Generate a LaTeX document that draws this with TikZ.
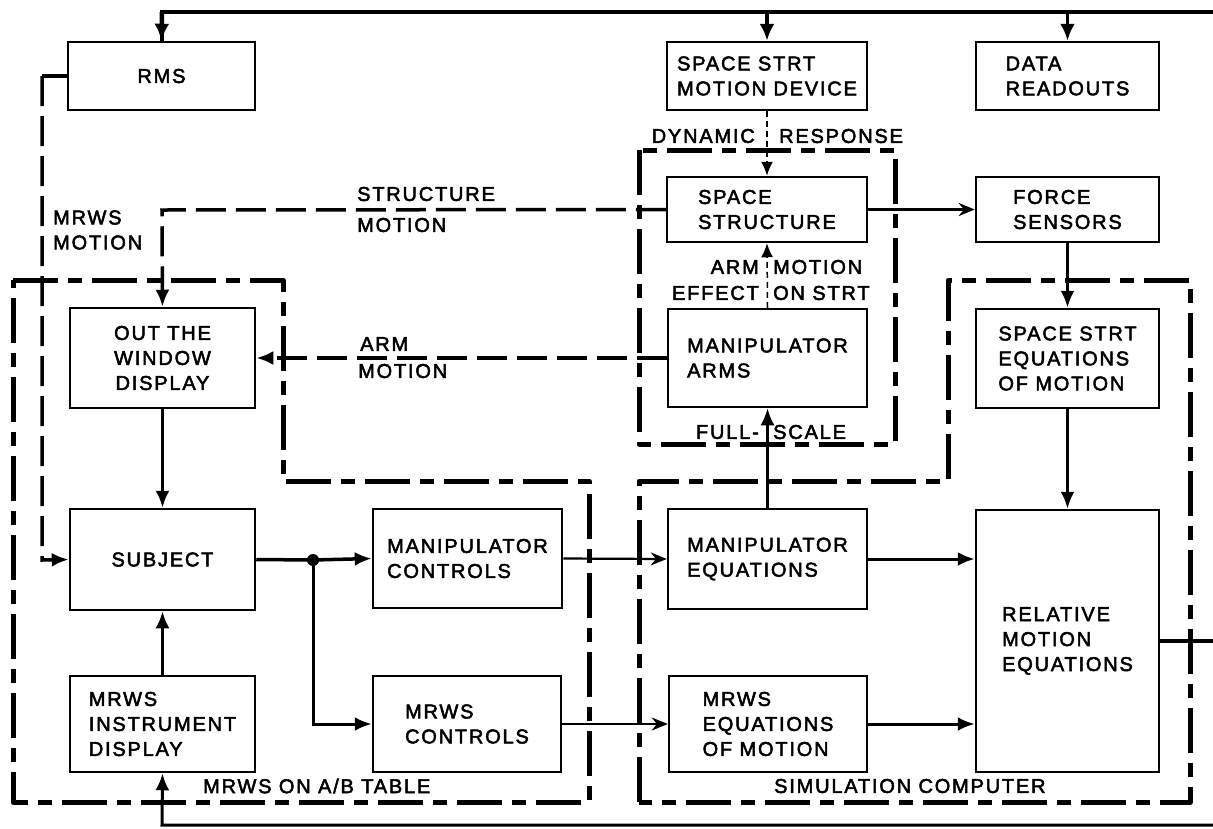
\documentclass[tikz,border=0pt]{standalone}
\usepackage{fontspec}
\newfontfamily\lblfont{Liberation Sans}[LetterSpace=9, FakeBold=2.5]
\usetikzlibrary{arrows.meta}
\tikzset{
  box/.style={draw, line width=2.5pt, inner sep=0pt, align=left, font=\lblfont\fontsize{20}{25}\selectfont},
  lbl/.style={inner sep=0pt, align=left, font=\lblfont\fontsize{20}{25}\selectfont},
  flow/.style={line width=3pt, -{Latex[length=17pt,width=14pt]}},
  thinflow/.style={line width=2.2pt, -{Stealth[length=16pt,width=13pt]}},
  bus/.style={line width=4.5pt},
  motion/.style={line width=3.5pt, dash pattern=on 30pt off 10pt, -{Latex[length=17pt,width=14pt]}},
  faint/.style={line width=1.5pt, dash pattern=on 6pt off 4pt, -{Latex[length=14pt,width=12pt]}},
  group/.style={line width=5pt, dash pattern=on 45pt off 10pt on 14pt off 10pt, line join=round}
}
\begin{document}
\begin{tikzpicture}[x=1pt,y=-1pt]
\useasboundingbox[fill=white] (0,0) rectangle (1213,828);

% group boundaries
\draw[group] (13,280) -- (283,280) -- (283,481) -- (589,481) -- (589,802) -- (13,802) -- cycle;
\draw[group] (639,150) rectangle (895,444);
\draw[group] (639,802) -- (639,481) -- (948,481) -- (948,280) -- (1190,280) -- (1190,802) -- cycle;

% boxes
\node[box, minimum width=187, minimum height=68] (rms) at (161.5,76) {RMS};
\node[box, minimum width=200, minimum height=68] (ssmd) at (767,76) {SPACE STRT\\MOTION DEVICE};
\node[box, minimum width=183, minimum height=68] (data) at (1067.5,76) {DATA\\READOUTS};
\node[box, minimum width=200, minimum height=65] (ss) at (767,209.5) {SPACE\\STRUCTURE};
\node[box, minimum width=183, minimum height=65] (force) at (1067.5,209.5) {FORCE\\SENSORS};
\node[box, minimum width=185, minimum height=100, align=center] (otw) at (162.5,358) {OUT THE\\WINDOW\\DISPLAY};
\node[box, minimum width=199, minimum height=98] (arms) at (767.5,358) {MANIPULATOR\\ARMS};
\node[box, minimum width=183, minimum height=99] (sseq) at (1067.5,358.5) {SPACE STRT\\EQUATIONS\\OF MOTION};
\node[box, minimum width=185, minimum height=101] (subj) at (162.5,559.5) {SUBJECT};
\node[box, minimum width=189, minimum height=99] (mctl) at (467.5,558.5) {MANIPULATOR\\CONTROLS};
\node[box, minimum width=199, minimum height=100] (meq) at (767.5,559) {MANIPULATOR\\EQUATIONS};
\node[box, minimum width=183, minimum height=262] (rel) at (1067.5,641) {RELATIVE\\MOTION\\EQUATIONS};
\node[box, minimum width=185, minimum height=96] (mid) at (162.5,724) {MRWS\\INSTRUMENT\\DISPLAY};
\node[box, minimum width=188, minimum height=96] (mrctl) at (467,724) {MRWS\\CONTROLS};
\node[box, minimum width=198, minimum height=96] (mreq) at (768,724) {MRWS\\EQUATIONS\\OF MOTION};

% free ends at the picture edge
\coordinate (busR) at (1213,12);
\coordinate (busL) at (162,12);
\coordinate (outR) at (1213,641);
\coordinate (botR) at (1213,825);
\coordinate (botL) at (162,825);
\coordinate (jn) at (313,560);

% top bus
\draw[bus] (busR) -- (busL) -- (busL |- rms.north);
\draw[line width=4.5pt, -{Latex[length=17pt,width=15pt]}] (busL) -- (rms.north);
\draw[line width=3.5pt, -{Latex[length=17pt,width=15pt]}] (ssmd.north |- busR) -- (ssmd.north);
\draw[line width=3.5pt, -{Latex[length=17pt,width=15pt]}] (data.north |- busR) -- (data.north);

% relative motion output and bottom return
\draw[line width=3.5pt] (rel.east |- outR) -- (outR);
\draw[line width=3pt, -{Latex[length=17pt,width=14pt]}] (botR) -- (botL) -- (mid.south);

% solid flows
\draw[flow] (otw.south) -- (subj.north);
\draw[flow] (mid.north) -- (subj.south);
\draw[line width=3.5pt] (subj.east) -- (jn);
\draw[flow, line width=3.5pt] (jn) -- (mctl.west);
\draw[flow] (jn) -- (jn |- mrctl.west) -- (mrctl.west);
\fill (jn) circle (6pt);
\draw[thinflow] (mctl.east) -- (meq.west);
\draw[thinflow] (mrctl.east) -- (mreq.west);
\draw[flow] (meq.east) -- (meq.east -| rel.west);
\draw[flow] (mreq.east) -- (mreq.east -| rel.west);
\draw[flow] (force.south) -- (sseq.north);
\draw[flow] (sseq.south) -- (rel.north);
\draw[thinflow, line width=3pt] (ss.east) -- (force.west);
\draw[flow, line width=2.5pt] (meq.north) -- (arms.south);

% dashed motion paths
\draw[line width=3.5pt] (rms.west) -- (42,76);
\draw[motion] (42,76) -- (42,560) -- (subj.west);
\draw[motion] (ss.west) -- (162,210) -- (otw.north);
\draw[motion] (arms.west) -- (otw.east);
\draw[faint] (ssmd.south) -- (ss.north);
\draw[faint] (arms.north) -- (ss.south);

% labels
\node[lbl, anchor=west] at (53,230) {MRWS\\MOTION};
\node[lbl, anchor=west] at (357,194) {STRUCTURE};
\node[lbl, anchor=west] at (357,225) {MOTION};
\node[lbl, anchor=west] at (360,344) {ARM};
\node[lbl, anchor=west] at (358,371) {MOTION};
\node[lbl, anchor=east] at (755,136) {DYNAMIC};
\node[lbl, anchor=west] at (779,136) {RESPONSE};
\node[lbl, anchor=east] at (759,267) {ARM};
\node[lbl, anchor=east] at (759,293) {EFFECT};
\node[lbl, anchor=west] at (773,267) {MOTION};
\node[lbl, anchor=west] at (773,293) {ON STRT};
\node[lbl, anchor=east] at (759,432) {FULL-};
\node[lbl, anchor=west] at (773,432) {SCALE};
\node[lbl, anchor=west] at (203,786) {MRWS ON A/B TABLE};
\node[lbl, anchor=west] at (774,786) {SIMULATION COMPUTER};
\end{tikzpicture}
\end{document}
